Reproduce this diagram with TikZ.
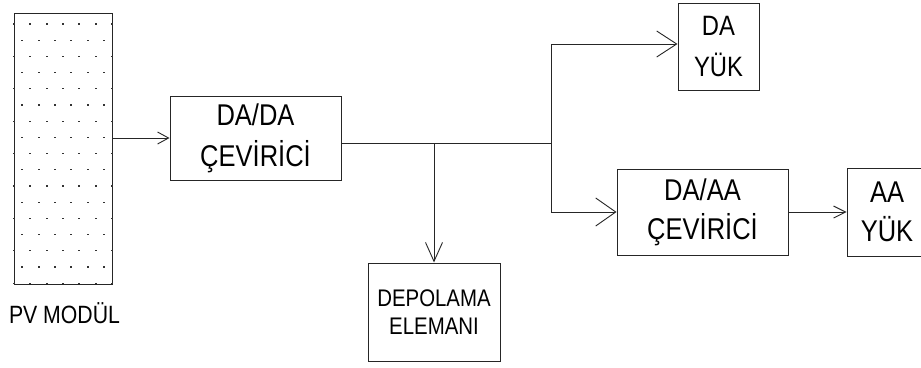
\documentclass[tikz,border=0pt]{standalone}
\usepackage{fontspec}
\setmainfont{Liberation Sans}[FakeStretch=0.85]
\usetikzlibrary{arrows.meta}
\begin{document}
\begin{tikzpicture}[x=1pt,y=-1pt]

		\tikzset{
		  kutu/.style={
			draw=black!85,
			line width=1pt,
			inner sep=0pt,
			align=center,
		  },
		  hat/.style={
			draw=black!85,
			line width=1pt,
		  },
		  ok/.style 2 args={
			-{Straight Barb[length=#1pt,width=#2pt,line width=0.9pt]},
		  },
		}
		\useasboundingbox (0,0) rectangle (921,367);
		\clip (0,0) rectangle (921,367);
		% pv module
		\node[kutu,minimum width=98,minimum height=271] (pv) at (63,148.5) {};
		\foreach \i in {0,...,16}{
			\pgfmathsetmacro{\yy}{24+16.2*\i}
			\ifodd\i
				\foreach \j in {0,...,5}{
					\fill[black!80] ({22.2+16.33*\j-1},\yy-0.6) rectangle ++(2,1.2);
				}
			\else
				\foreach \j in {0,...,6}{
					\fill[black!80] ({14+16.33*\j-1},\yy-0.6) rectangle ++(2,1.2);
				}
			\fi
		}
		\node[font=\fontsize{25}{28}\selectfont] (pvad) at (64.5,313) {PV MODÜL};
		% blocks
		\node[kutu,minimum width=171,minimum height=84,font=\fontsize{30}{41}\selectfont] (dada) at (255.5,138) {DA/DA\\ÇEVİRİCİ};
		\node[kutu,minimum width=132,minimum height=98,font=\fontsize{24}{28}\selectfont] (depo) at (434,312) {DEPOLAMA\\ELEMANI};
		\node[kutu,minimum width=81,minimum height=87,font=\fontsize{28}{41}\selectfont] (dayuk) at (718.5,46.5) {DA\\YÜK};
		\node[kutu,minimum width=171,minimum height=86,font=\fontsize{30}{39}\selectfont] (daaa) at (702.5,212) {DA/AA\\ÇEVİRİCİ};
		\node[kutu,minimum width=80,minimum height=88,font=\fontsize{30}{39}\selectfont] (aayuk) at (887,212) {AA\\YÜK};
		% bus
		\coordinate (tap) at (434,143);
		\coordinate (bus) at (551,143);
		\coordinate (ust) at (551,44);
		\coordinate (alt) at (551,212);
		\draw[hat,ok={11}{12}] (pv.east |- dada.west) -- (dada.west);
		\draw[hat] (dada.east |- tap) -- (bus);
		\draw[hat] (ust) -- (alt);
		\draw[hat,ok={19}{17}] (tap) -- (depo.north);
		\draw[hat,ok={20}{26}] (ust) -- (ust -| dayuk.west);
		\draw[hat,ok={20}{28}] (alt) -- (daaa.west);
		\draw[hat,ok={12}{12}] (daaa.east) -- (aayuk.west);

	\end{tikzpicture}
\end{document}
